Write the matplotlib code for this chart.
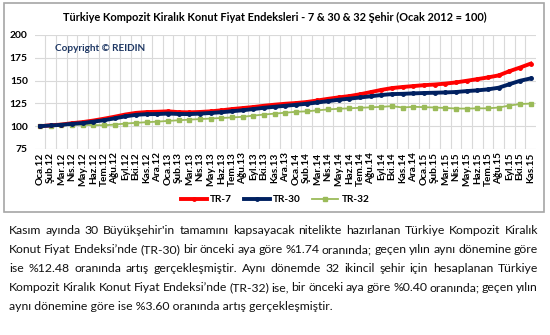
import matplotlib
matplotlib.use("Agg")
import matplotlib.pyplot as plt
from matplotlib.patches import Rectangle
import numpy as np

plt.rcParams['font.family'] = ['Lato', 'DejaVu Sans']

months = ['Oca', 'Şub', 'Mar', 'Nis', 'May', 'Haz', 'Tem', 'Ağu', 'Eyl', 'Eki', 'Kas', 'Ara']
labels = [f'{m}.{y}' for y in ['12', '13', '14', '15'] for m in months][:47]

tr7 = [100.0, 101.0, 101.8, 103.3, 104.5, 106.2, 108.2, 110.4, 112.8, 114.6,
       115.5, 115.8, 116.3, 115.4, 115.2, 115.6, 116.3, 117.4, 118.8, 119.9,
       121.0, 122.4, 123.6, 124.6, 125.4, 126.5, 128.2, 130.0, 131.6, 133.0,
       135.0, 137.4, 139.8, 141.8, 143.0, 144.0, 145.0, 145.7, 146.7, 148.0,
       149.8, 151.6, 153.5, 155.7, 160.3, 164.3, 168.6]
tr30 = [100.0, 100.8, 101.5, 102.6, 103.4, 105.0, 106.6, 108.6, 110.8, 112.5,
        113.2, 113.3, 113.9, 113.4, 113.3, 113.8, 114.5, 115.3, 116.4, 117.5,
        118.8, 120.2, 121.3, 122.4, 123.5, 124.6, 126.0, 127.5, 129.0, 130.2,
        131.5, 132.8, 134.2, 135.2, 135.5, 136.0, 136.4, 136.7, 137.0, 137.5,
        138.5, 139.3, 140.4, 142.2, 146.0, 149.8, 152.4]
tr32 = [100.0, 100.6, 101.0, 101.8, 101.6, 101.2, 101.0, 101.8, 102.9, 103.7,
        104.4, 105.0, 105.8, 106.5, 107.2, 107.8, 108.4, 109.0, 109.6, 110.3,
        111.6, 112.8, 113.8, 114.8, 115.8, 116.3, 117.4, 118.4, 119.1, 119.6,
        120.2, 120.7, 121.2, 122.0, 120.5, 121.3, 120.9, 120.5, 120.0, 119.4,
        119.3, 119.6, 119.6, 120.5, 122.6, 124.3, 124.8]

paragraph = [
    "Kasım ayında 30 Büyükşehir'in tamamını kapsayacak nitelikte hazırlanan Türkiye Kompozit Kiralık",
    "Konut Fiyat Endeksi’nde (TR-30) bir önceki aya göre %1.74 oranında; geçen yılın aynı dönemine göre",
    "ise %12.48 oranında artış gerçekleşmiştir. Aynı dönemde 32 ikincil şehir için hesaplanan Türkiye",
    "Kompozit Kiralık Konut Fiyat Endeksi’nde (TR-32) ise, bir önceki aya göre %0.40 oranında; geçen yılın",
    "aynı dönemine göre ise %3.60 oranında artış gerçekleşmiştir.",
]

W, H = 550, 335
fig = plt.figure(figsize=(W / 100, H / 100), dpi=100)

# chart frame
fig.patches.append(Rectangle((4 / W, 1 - 212 / H), 540 / W, 209 / H,
                             transform=fig.transFigure, fill=False,
                             edgecolor='#A6A6A6', linewidth=1.2))

ax = fig.add_axes([34.7 / W, 1 - 149 / H, (536 - 34.7) / W, 114 / H])
x = np.arange(len(labels))
ax.plot(x, tr7, color='#FF0000', lw=2.8, marker='o', ms=2.5, label='TR-7', zorder=3)
ax.plot(x, tr30, color='#002060', lw=2.8, marker='o', ms=2.5, label='TR-30', zorder=4)
ax.plot(x, tr32, color='#9BBB59', lw=1.3, marker='s', ms=2.8, label='TR-32', zorder=2)

ax.set_xlim(-0.5, len(labels) - 0.5)
ax.set_ylim(75, 200)
ax.set_yticks([75, 100, 125, 150, 175, 200])
ax.set_xticks(x)
ax.set_xticklabels(labels, rotation=90, fontsize=7.2, fontweight='bold')
ax.set_xticks(x[:-1] + 0.5, minor=True)
ax.tick_params(axis='y', labelsize=7.4, length=0, pad=5)
ax.tick_params(axis='x', which='both', length=0, pad=2.5)
for lab in ax.get_yticklabels():
    lab.set_fontweight('bold')
ax.grid(axis='y', color='#D9D9D9', lw=0.8)
ax.grid(axis='x', which='minor', color='#D9D9D9', lw=0.8)
for s in ax.spines.values():
    s.set_visible(False)
ax.set_axisbelow(True)

ax.text(0.04, 0.86, 'Copyright © REIDIN', transform=ax.transAxes,
        color='#1F3864', fontsize=7.2, fontweight='bold')

fig.text(0.5, 1 - 17 / H,
         'Türkiye Kompozit Kiralık Konut Fiyat Endeksleri - 7 & 30 & 32 Şehir (Ocak 2012 = 100)',
         ha='center', va='center', fontsize=7.9, fontweight='bold')

fig.legend(loc='center', bbox_to_anchor=(0.5, 1 - 200 / H), ncol=3, frameon=False,
           prop={'weight': 'bold', 'size': 7.2}, handlelength=2.6,
           columnspacing=1.2, handletextpad=0.3)

# justified paragraph below the chart, words placed on a common baseline
renderer = fig.canvas.get_renderer()
x0, x1 = 9, 538
fs = 8.8
baselines = [234, 253, 272, 291, 310]
for k, (line, yy) in enumerate(zip(paragraph, baselines)):
    if k == len(paragraph) - 1:
        fig.text(x0 / W, 1 - yy / H, line, fontsize=fs, va='baseline', color='#111111')
        continue
    words = line.split(' ')
    texts = [fig.text(0, 1 - yy / H, w, fontsize=fs, va='baseline', color='#111111')
             for w in words]
    widths = [t.get_window_extent(renderer).width for t in texts]
    gap = (x1 - x0 - sum(widths)) / (len(words) - 1)
    px = x0
    for t, w in zip(texts, widths):
        t.set_x(px / W)
        px += w + gap

fig.savefig('out.png', dpi=100)
